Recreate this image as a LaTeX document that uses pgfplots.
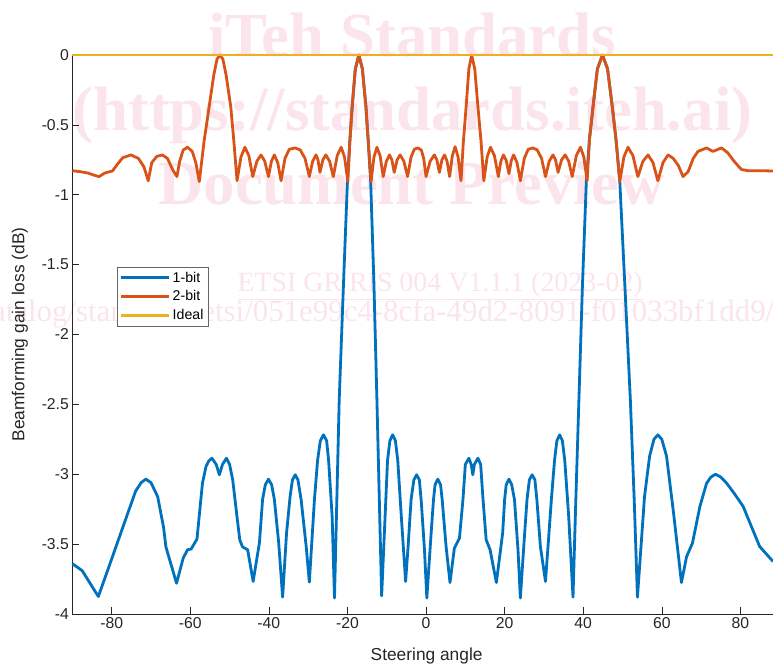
\documentclass[border=0pt]{standalone}
\usepackage{pgfplots}
\pgfplotsset{compat=1.18}
\usepackage{fontspec}
\setmainfont{Liberation Sans}
\newfontfamily\wmserif{Liberation Serif}
\definecolor{c1}{RGB}{0,114,189}
\definecolor{c2}{RGB}{217,83,25}
\definecolor{c3}{RGB}{237,177,32}
\definecolor{wm}{RGB}{251,228,235}
\definecolor{axc}{RGB}{38,38,38}
\begin{document}
\begin{tikzpicture}
\begin{scope}[every node/.style={text=wm, inner sep=0pt}]
\node[anchor=base, font=\wmserif\bfseries\fontsize{63}{63}\selectfont] at (339.6bp,557bp) {iTeh Standards};
\node[anchor=base, font=\wmserif\bfseries\fontsize{63}{63}\selectfont] at (340bp,483bp) {(https://standards.iteh.ai)};
\node[anchor=base, font=\wmserif\bfseries\fontsize{63}{63}\selectfont] at (339bp,409bp) {Document Preview};
\node[anchor=base east, font=\wmserif\fontsize{28}{28}\selectfont] at (570.6bp,322bp) {\underline{ETSI GR RIS 004 V1.1.1 (2023-02)}};
\node[anchor=base east, font=\wmserif\fontsize{31}{31}\selectfont] at (702bp,292bp) {https://standards.iteh.ai/catalog/standards/etsi/051e99c4-8cfa-49d2-8091-f01033bf1dd9/};
\end{scope}
\begin{axis}[
  scale only axis, width=700.6bp, height=559bp,
  xmin=-90, xmax=88.3, ymin=-4, ymax=0,
  clip=false,
  axis x line*=bottom, axis y line*=left,
  axis line style={axc, line width=0.6bp},
  tick style={axc, line width=0.6bp},
  tick align=inside, major tick length=6.5bp,
  xtick={-80,-60,-40,-20,0,20,40,60,80},
  xticklabels={-80,-60,-40,-20,0,20,40,60,80},
  ytick={-4,-3.5,-3,-2.5,-2,-1.5,-1,-0.5,0},
  yticklabels={-4,-3.5,-3,-2.5,-2,-1.5,-1,-0.5,0},
  ticklabel style={font=\fontsize{15.8}{18}\selectfont, text=axc},
  xlabel={Steering angle}, ylabel={Beamforming gain loss (dB)},
  label style={font=\fontsize{17.4}{20}\selectfont, text=axc},
  xlabel style={at={(axis description cs:0.5056,0)}, anchor=center, yshift=-42bp},
  ylabel style={at={(axis description cs:-0.0748,0.5)}, anchor=center},
  legend cell align=left,
  legend image code/.code={\draw[#1] (0bp,0bp) -- (48bp,0bp);},
  legend style={at={(axis description cs:0.0632,0.6213)}, anchor=north west,
    draw=black!60, line width=0.5bp, fill=white,
    font=\fontsize{14.2}{17}\selectfont, inner xsep=3bp, inner ysep=3bp,
    row sep=3bp},
  every axis plot/.append style={line width=2.8bp, line join=round},
]
\addplot[c1] coordinates {
(-90,-3.64) (-87.5,-3.69) (-85.5,-3.78) (-83.4,-3.875) (-80.5,-3.646) (-77.3,-3.39) (-73.9,-3.12) (-72.5,-3.06) (-71.3,-3.035) (-70.0,-3.06) (-68.3,-3.16) (-66.8,-3.38) (-66.2,-3.52) (-63.5,-3.78) (-61.8,-3.6) (-60.7,-3.54) (-59.8,-3.536) (-58.3,-3.464) (-56.9,-3.064) (-56.0,-2.945) (-55.3,-2.905) (-54.5,-2.885) (-53.4,-2.93) (-52.6,-3.004) (-51.8,-2.93) (-50.8,-2.885) (-50.0,-2.93) (-49.2,-3.04) (-48.0,-3.33) (-47.4,-3.47) (-46.7,-3.52) (-45.4,-3.54) (-44.0,-3.767) (-42.4,-3.49) (-41.6,-3.18) (-40.9,-3.075) (-40.1,-3.035) (-39.3,-3.075) (-38.6,-3.18) (-37.5,-3.49) (-36.5,-3.879) (-35.5,-3.42) (-34.6,-3.16) (-34.0,-3.04) (-33.3,-3.004) (-32.6,-3.04) (-31.8,-3.18) (-30.5,-3.517) (-29.7,-3.772) (-28.4,-3.18) (-27.6,-2.9) (-26.9,-2.76) (-26.1,-2.718) (-25.3,-2.76) (-24.8,-2.9) (-23.9,-3.30) (-23.3,-3.886) (-22.1,-2.47) (-21.0,-1.63) (-20.0,-0.9) (-19.4,-0.62) (-18.8,-0.37) (-18.0,-0.1) (-17.1,0) (-16.2,-0.1) (-15.3,-0.37) (-14.7,-0.62) (-14.1,-0.9) (-13.3,-1.6) (-12.5,-2.47) (-11.3,-3.87) (-9.8,-2.9) (-9.2,-2.76) (-8.5,-2.718) (-7.8,-2.76) (-7.2,-2.9) (-6.3,-3.30) (-5.2,-3.767) (-4.6,-3.53) (-3.8,-3.18) (-3.1,-3.04) (-2.4,-3.004) (-1.7,-3.04) (-1.2,-3.2) (-0.4,-3.54) (0.2,-3.886) (1.3,-3.42) (1.9,-3.18) (2.3,-3.075) (3.0,-3.035) (3.7,-3.075) (4.1,-3.18) (5.1,-3.517) (6.1,-3.775) (7.2,-3.53) (8.5,-3.457) (9.4,-3.18) (10.0,-2.93) (10.9,-2.885) (11.5,-2.93) (11.9,-3.004) (12.3,-2.93) (13.2,-2.885) (13.9,-2.93) (14.5,-3.18) (15.3,-3.469) (16.3,-3.541) (17.9,-3.775) (19.5,-3.42) (20.0,-3.18) (20.4,-3.075) (21.1,-3.035) (21.8,-3.075) (22.5,-3.18) (23.4,-3.54) (24.0,-3.886) (25.1,-3.42) (25.7,-3.18) (26.3,-3.04) (27.0,-3.004) (27.7,-3.04) (28.2,-3.18) (29.1,-3.517) (30.4,-3.767) (31.9,-3.18) (32.7,-2.9) (33.3,-2.76) (34.0,-2.718) (34.7,-2.76) (35.3,-2.9) (36.3,-3.30) (37.4,-3.879) (38.1,-3.2) (38.9,-2.47) (39.8,-1.65) (40.8,-0.9) (41.6,-0.6) (42.5,-0.37) (43.6,-0.1) (44.9,0) (46.2,-0.1) (47.4,-0.37) (48.4,-0.62) (49.3,-0.9) (50.6,-1.65) (52.0,-2.47) (53.0,-3.2) (53.8,-3.88) (55.6,-3.16) (56.9,-2.87) (58.0,-2.75) (59.0,-2.718) (60.0,-2.75) (61.2,-2.87) (63.0,-3.28) (65.0,-3.775) (66.3,-3.59) (67.8,-3.493) (69.7,-3.23) (71.4,-3.064) (72.5,-3.02) (73.7,-3.0) (75.0,-3.02) (76.5,-3.064) (78.5,-3.14) (80.7,-3.23) (84.9,-3.517) (88.3,-3.624)
};
\addlegendentry{1-bit}
\addplot[c2] coordinates {
(-90,-0.828) (-88,-0.835) (-86,-0.845) (-84.5,-0.86) (-83.2,-0.87) (-81.8,-0.845) (-80.5,-0.835) (-79.8,-0.83) (-78.5,-0.78) (-77.2,-0.735) (-75.1,-0.715) (-73.2,-0.74) (-71.8,-0.8) (-70.7,-0.9) (-69.8,-0.77) (-68.5,-0.725) (-67.1,-0.715) (-65.8,-0.74) (-64.5,-0.82) (-63.4,-0.87) (-62.7,-0.76) (-61.8,-0.68) (-60.7,-0.66) (-59.5,-0.69) (-58.6,-0.77) (-57.7,-0.906) (-56.5,-0.62) (-55.2,-0.37) (-54.0,-0.14) (-53.2,-0.03) (-52.5,0) (-51.7,-0.03) (-50.9,-0.14) (-49.7,-0.37) (-48.9,-0.62) (-48.1,-0.9) (-47.1,-0.73) (-46.1,-0.66) (-45.1,-0.72) (-44.1,-0.87) (-43.05,-0.76) (-42.0,-0.715) (-41.05,-0.76) (-40.1,-0.87) (-39.35,-0.76) (-38.6,-0.715) (-37.75,-0.77) (-36.9,-0.9) (-35.9,-0.74) (-34.8,-0.675) (-33.3,-0.665) (-32.0,-0.68) (-30.8,-0.74) (-29.7,-0.87) (-28.85,-0.76) (-28.0,-0.715) (-27.5,-0.75) (-27.0,-0.84) (-26.25,-0.75) (-25.5,-0.715) (-24.55,-0.76) (-23.6,-0.87) (-22.6,-0.72) (-21.6,-0.66) (-20.75,-0.73) (-19.9,-0.906) (-19.4,-0.62) (-18.8,-0.37) (-18.0,-0.1) (-17.1,0) (-16.2,-0.1) (-15.3,-0.37) (-14.7,-0.62) (-14.0,-0.906) (-13.25,-0.73) (-12.5,-0.66) (-11.7,-0.72) (-10.9,-0.87) (-10.1,-0.76) (-9.3,-0.715) (-8.7,-0.75) (-8.1,-0.84) (-7.35,-0.75) (-6.6,-0.715) (-5.65,-0.76) (-4.7,-0.87) (-3.8,-0.73) (-3.0,-0.675) (-2.1,-0.665) (-1.2,-0.68) (-0.6,-0.74) (0.0,-0.87) (1.05,-0.76) (2.1,-0.715) (2.75,-0.75) (3.4,-0.84) (4.05,-0.75) (4.7,-0.715) (5.35,-0.76) (6.0,-0.87) (6.7,-0.72) (7.4,-0.656) (8.15,-0.73) (8.9,-0.9) (9.5,-0.62) (10.2,-0.37) (10.9,-0.1) (11.6,0) (12.4,-0.1) (13.2,-0.37) (14.0,-0.62) (14.7,-0.9) (15.55,-0.73) (16.4,-0.66) (17.4,-0.72) (18.4,-0.87) (19.05,-0.76) (19.7,-0.715) (20.4,-0.755) (21.1,-0.85) (21.7,-0.755) (22.3,-0.715) (23.15,-0.77) (24.0,-0.9) (25.0,-0.74) (26.0,-0.675) (27.2,-0.665) (28.3,-0.68) (29.4,-0.74) (30.4,-0.87) (31.35,-0.76) (32.3,-0.715) (32.95,-0.75) (33.6,-0.84) (34.5,-0.75) (35.4,-0.715) (36.3,-0.76) (37.2,-0.87) (38.25,-0.72) (39.3,-0.66) (40.15,-0.73) (41.0,-0.9) (41.6,-0.6) (42.5,-0.37) (43.6,-0.1) (44.9,0) (46.2,-0.1) (47.4,-0.37) (48.4,-0.62) (49.3,-0.906) (50.35,-0.73) (51.4,-0.66) (52.65,-0.72) (53.9,-0.87) (55.2,-0.76) (56.5,-0.715) (57.75,-0.77) (59.0,-0.9) (60.3,-0.77) (61.6,-0.715) (62.9,-0.74) (64.2,-0.79) (65.4,-0.87) (66.7,-0.835) (68.0,-0.74) (69.2,-0.69) (71.4,-0.665) (73.0,-0.69) (75.2,-0.665) (76.8,-0.7) (78.1,-0.75) (79.3,-0.79) (80.3,-0.82) (82,-0.828) (85,-0.828) (88.3,-0.83)
};
\addlegendentry{2-bit}
\addplot[c3] coordinates {(-90,0) (88.3,0)};
\addlegendentry{Ideal}
\end{axis}
\pgfresetboundingbox
\path[use as bounding box] (-72.4bp,-52bp) rectangle (700.6bp,614bp);
\end{tikzpicture}
\end{document}
